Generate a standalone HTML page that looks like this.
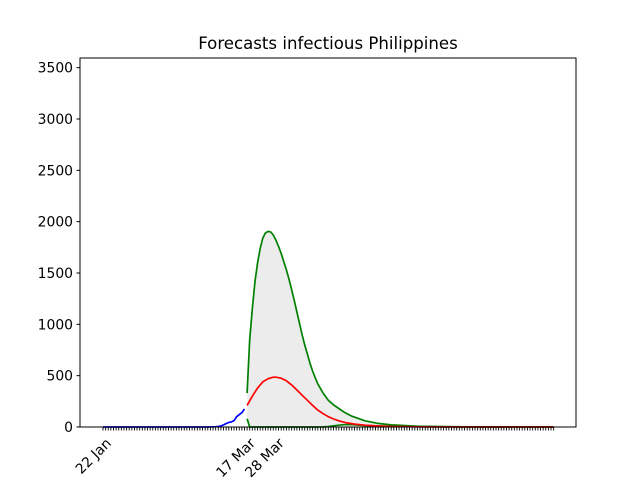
<!DOCTYPE html>
<html><head><meta charset="utf-8"><style>body{margin:0;background:#fff}svg{display:block;font-family:"DejaVu Sans","Liberation Sans",sans-serif}</style></head>
<body>
<svg id="c" width="640" height="480" viewBox="0 0 640 480"></svg>
<script>
const dataDays=[0,41,42,43,44,45,46,47,48,49,50,51,52,53,54];
const dataVals=[0,0,2,3,5,10,20,33,45,50,62,100,120,140,175];
const fcDays=[55,56,57,58,59,60,61,62,63,64,65,66,67,68,69,70,71,72,73,74,75,76,77,78,79,80,81,82,84,86,88,90,92,95,100,105,110,120,130,140,172];
const upperVals=[330,850,1150,1420,1600,1740,1840,1890,1905,1900,1870,1820,1760,1690,1610,1530,1440,1340,1230,1120,1010,900,800,710,620,545,480,420,330,260,215,180,145,105,60,35,20,8,4,2,0];
const lowerVals=[80,0,0,0,0,0,0,0,0,0,0,0,0,0,0,0,0,0,0,0,0,0,0,0,0,0,0,0,1,4,12,18,22,22,15,10,7,3,1,0,0];
const midDays=[55,57,59,61,63,65,66,68,70,72,74,76,78,80,82,84,86,88,90,93,96,100,105,110,120,140,172];
const midVals=[210,300,380,440,470,485,485,475,450,410,360,310,260,210,165,130,100,78,60,40,28,18,10,5,2,0,0];
const yTicks=[0,500,1000,1500,2000,2500,3000,3500];
const xLabels=[[0,"22 Jan"],[55,"17 Mar"],[66,"28 Mar"]];
const nDays=173;
const L=80,R=576,T=58,B=427;
const X=d=>103+d*2.62, Y=v=>B-v*0.10267;
const svg=document.getElementById('c');const NS="http://www.w3.org/2000/svg";
function el(t,a,p){const e=document.createElementNS(NS,t);for(const k in a)e.setAttribute(k,a[k]);(p||svg).appendChild(e);return e;}
function pts(ds,vs){return ds.map((d,i)=>X(d).toFixed(1)+","+Y(vs[i]).toFixed(1));}
let fp="M"+pts(fcDays,upperVals).join(" L")+" L"+pts(fcDays,lowerVals).reverse().join(" L")+"Z";
const fill=el('path',{d:fp,fill:'#ececec',stroke:'none'});


const lines=[[dataDays,dataVals,'blue','observed-line'],[fcDays,upperVals,'green','upper-bound-line'],[fcDays,lowerVals,'green','lower-bound-line'],[midDays,midVals,'red','forecast-line']];
for(const [ds,vs,c,n] of lines){const p=el('polyline',{points:pts(ds,vs).join(" "),fill:'none',stroke:c,'stroke-width':1.7,'stroke-linejoin':'round'});

}
el('rect',{x:L,y:T,width:R-L,height:B-T,fill:'none',stroke:'#000','stroke-width':1});
const title=el('text',{x:328,y:49,'text-anchor':'middle','font-size':'16.6px'});title.textContent="Forecasts infectious Philippines";


for(const v of yTicks){el('line',{x1:L-3.5,x2:L,y1:Y(v),y2:Y(v),stroke:'#000'});
const t=el('text',{x:L-7,y:Y(v)+5,'text-anchor':'end','font-size':'13.9px'});t.textContent=v;

}
for(let d=0;d<nDays;d++){el('line',{x1:X(d),x2:X(d),y1:B,y2:B+3.5,stroke:'#000','stroke-width':0.9});}
for(const [d,s] of xLabels){const ax=X(d)+9,ay=B+17;const t=el('text',{x:ax,y:ay,'text-anchor':'end','font-size':'13.9px',transform:`rotate(-45 ${ax} ${ay})`});t.textContent=s;

}
</script>
</body></html>
